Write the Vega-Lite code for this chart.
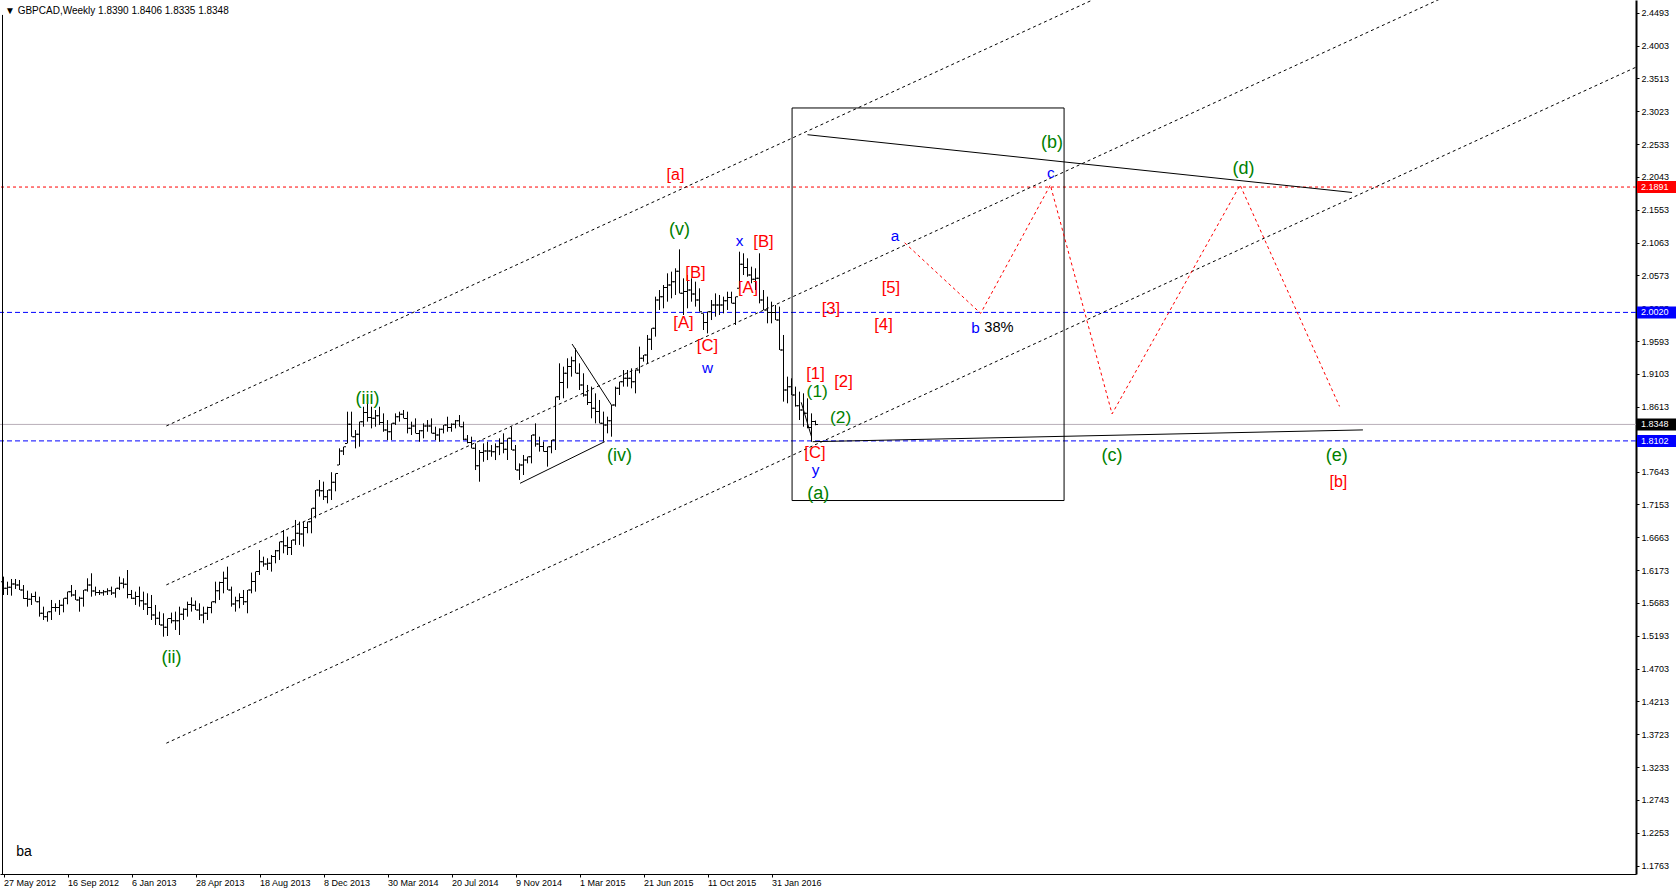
{
"$schema": "https://vega.github.io/schema/vega-lite/v6.json",
"width": 1636,
"height": 874,
"autosize": {"type": "none"},
"padding": {"left": 0, "top": 0, "right": 40, "bottom": 20},
"background": "white",
"config": {
"view": {"stroke": null},
"font": "Liberation Sans",
"axis": {"grid": false, "labelFont": "Liberation Sans", "labelFontSize": 9, "labelColor": "black", "domainColor": "black", "tickColor": "black", "tickSize": 3, "labelOverlap": false, "labelFlush": false, "labelBound": false},
"axisX": {"labelAlign": "left", "labelPadding": 1, "domainWidth": 1},
"axisY": {"domainWidth": 2, "labelPadding": 2}
},
"resolve": {"scale": {"color": "independent", "size": "independent"}},
"datasets": {
"bars": [
{"d":"2012-05-27","o":1.6000,"h":1.6076,"l":1.5802,"c":1.5902},
{"d":"2012-06-03","o":1.5902,"h":1.6001,"l":1.5802,"c":1.5917},
{"d":"2012-06-10","o":1.5917,"h":1.6041,"l":1.5792,"c":1.5967},
{"d":"2012-06-17","o":1.5967,"h":1.6041,"l":1.5892,"c":1.5952},
{"d":"2012-06-24","o":1.5952,"h":1.6026,"l":1.5877,"c":1.5877},
{"d":"2012-07-01","o":1.5877,"h":1.5951,"l":1.5743,"c":1.5748},
{"d":"2012-07-08","o":1.5748,"h":1.5867,"l":1.5628,"c":1.5740},
{"d":"2012-07-15","o":1.5740,"h":1.5827,"l":1.5653,"c":1.5778},
{"d":"2012-07-22","o":1.5778,"h":1.5852,"l":1.5703,"c":1.5703},
{"d":"2012-07-29","o":1.5703,"h":1.5777,"l":1.5479,"c":1.5529},
{"d":"2012-08-05","o":1.5529,"h":1.5628,"l":1.5429,"c":1.5479},
{"d":"2012-08-12","o":1.5479,"h":1.5553,"l":1.5404,"c":1.5553},
{"d":"2012-08-19","o":1.5553,"h":1.5728,"l":1.5429,"c":1.5616},
{"d":"2012-08-26","o":1.5616,"h":1.5678,"l":1.5553,"c":1.5616},
{"d":"2012-09-02","o":1.5616,"h":1.5728,"l":1.5504,"c":1.5648},
{"d":"2012-09-09","o":1.5648,"h":1.5752,"l":1.5543,"c":1.5752},
{"d":"2012-09-16","o":1.5752,"h":1.5852,"l":1.5663,"c":1.5852},
{"d":"2012-09-23","o":1.5852,"h":1.5951,"l":1.5777,"c":1.5803},
{"d":"2012-09-30","o":1.5803,"h":1.5877,"l":1.5728,"c":1.5728},
{"d":"2012-10-07","o":1.5728,"h":1.5777,"l":1.5553,"c":1.5753},
{"d":"2012-10-14","o":1.5753,"h":1.5877,"l":1.5628,"c":1.5877},
{"d":"2012-10-21","o":1.5877,"h":1.6051,"l":1.5852,"c":1.5952},
{"d":"2012-10-28","o":1.5952,"h":1.6126,"l":1.5777,"c":1.5860},
{"d":"2012-11-04","o":1.5860,"h":1.5927,"l":1.5792,"c":1.5840},
{"d":"2012-11-11","o":1.5840,"h":1.5877,"l":1.5802,"c":1.5835},
{"d":"2012-11-18","o":1.5835,"h":1.5877,"l":1.5792,"c":1.5852},
{"d":"2012-11-25","o":1.5852,"h":1.5902,"l":1.5802,"c":1.5865},
{"d":"2012-12-02","o":1.5865,"h":1.5927,"l":1.5802,"c":1.5832},
{"d":"2012-12-09","o":1.5832,"h":1.5902,"l":1.5762,"c":1.5902},
{"d":"2012-12-16","o":1.5902,"h":1.6076,"l":1.5877,"c":1.5977},
{"d":"2012-12-23","o":1.5977,"h":1.6051,"l":1.5902,"c":1.5964},
{"d":"2012-12-30","o":1.5964,"h":1.6175,"l":1.5752,"c":1.5810},
{"d":"2013-01-06","o":1.5810,"h":1.5877,"l":1.5743,"c":1.5753},
{"d":"2013-01-13","o":1.5753,"h":1.5852,"l":1.5653,"c":1.5778},
{"d":"2013-01-20","o":1.5778,"h":1.5927,"l":1.5628,"c":1.5715},
{"d":"2013-01-27","o":1.5715,"h":1.5852,"l":1.5578,"c":1.5666},
{"d":"2013-02-03","o":1.5666,"h":1.5827,"l":1.5504,"c":1.5616},
{"d":"2013-02-10","o":1.5616,"h":1.5802,"l":1.5429,"c":1.5504},
{"d":"2013-02-17","o":1.5504,"h":1.5653,"l":1.5354,"c":1.5454},
{"d":"2013-02-24","o":1.5454,"h":1.5553,"l":1.5354,"c":1.5355},
{"d":"2013-03-03","o":1.5355,"h":1.5529,"l":1.5180,"c":1.5320},
{"d":"2013-03-10","o":1.5320,"h":1.5450,"l":1.5190,"c":1.5450},
{"d":"2013-03-17","o":1.5450,"h":1.5539,"l":1.5379,"c":1.5417},
{"d":"2013-03-24","o":1.5417,"h":1.5554,"l":1.5280,"c":1.5417},
{"d":"2013-03-31","o":1.5417,"h":1.5628,"l":1.5205,"c":1.5516},
{"d":"2013-04-07","o":1.5516,"h":1.5603,"l":1.5429,"c":1.5591},
{"d":"2013-04-14","o":1.5591,"h":1.5703,"l":1.5479,"c":1.5661},
{"d":"2013-04-21","o":1.5661,"h":1.5767,"l":1.5554,"c":1.5648},
{"d":"2013-04-28","o":1.5648,"h":1.5718,"l":1.5578,"c":1.5578},
{"d":"2013-05-05","o":1.5578,"h":1.5678,"l":1.5429,"c":1.5504},
{"d":"2013-05-12","o":1.5504,"h":1.5628,"l":1.5379,"c":1.5529},
{"d":"2013-05-19","o":1.5529,"h":1.5628,"l":1.5429,"c":1.5616},
{"d":"2013-05-26","o":1.5616,"h":1.5703,"l":1.5529,"c":1.5703},
{"d":"2013-06-02","o":1.5703,"h":1.6001,"l":1.5678,"c":1.5865},
{"d":"2013-06-09","o":1.5865,"h":1.6001,"l":1.5728,"c":1.5989},
{"d":"2013-06-16","o":1.5989,"h":1.6151,"l":1.5827,"c":1.6051},
{"d":"2013-06-23","o":1.6051,"h":1.6225,"l":1.5877,"c":1.5877},
{"d":"2013-06-30","o":1.5877,"h":1.5927,"l":1.5628,"c":1.5666},
{"d":"2013-07-07","o":1.5666,"h":1.5777,"l":1.5554,"c":1.5715},
{"d":"2013-07-14","o":1.5715,"h":1.5827,"l":1.5603,"c":1.5765},
{"d":"2013-07-21","o":1.5765,"h":1.5877,"l":1.5653,"c":1.5703},
{"d":"2013-07-28","o":1.5703,"h":1.5877,"l":1.5529,"c":1.5877},
{"d":"2013-08-04","o":1.5877,"h":1.6136,"l":1.5827,"c":1.6002},
{"d":"2013-08-11","o":1.6002,"h":1.6151,"l":1.5852,"c":1.6151},
{"d":"2013-08-18","o":1.6151,"h":1.6474,"l":1.6101,"c":1.6300},
{"d":"2013-08-25","o":1.6300,"h":1.6374,"l":1.6225,"c":1.6263},
{"d":"2013-09-01","o":1.6263,"h":1.6350,"l":1.6175,"c":1.6275},
{"d":"2013-09-08","o":1.6275,"h":1.6399,"l":1.6151,"c":1.6375},
{"d":"2013-09-15","o":1.6375,"h":1.6474,"l":1.6275,"c":1.6462},
{"d":"2013-09-22","o":1.6462,"h":1.6598,"l":1.6325,"c":1.6598},
{"d":"2013-09-29","o":1.6598,"h":1.6772,"l":1.6424,"c":1.6536},
{"d":"2013-10-06","o":1.6536,"h":1.6673,"l":1.6399,"c":1.6511},
{"d":"2013-10-13","o":1.6511,"h":1.6623,"l":1.6399,"c":1.6623},
{"d":"2013-10-20","o":1.6623,"h":1.6922,"l":1.6549,"c":1.6723},
{"d":"2013-10-27","o":1.6723,"h":1.6897,"l":1.6549,"c":1.6711},
{"d":"2013-11-03","o":1.6711,"h":1.6897,"l":1.6524,"c":1.6810},
{"d":"2013-11-10","o":1.6810,"h":1.6897,"l":1.6723,"c":1.6897},
{"d":"2013-11-17","o":1.6897,"h":1.7096,"l":1.6723,"c":1.7096},
{"d":"2013-11-24","o":1.7096,"h":1.7369,"l":1.6947,"c":1.7369},
{"d":"2013-12-01","o":1.7369,"h":1.7519,"l":1.7270,"c":1.7357},
{"d":"2013-12-08","o":1.7357,"h":1.7494,"l":1.7220,"c":1.7270},
{"d":"2013-12-15","o":1.7270,"h":1.7369,"l":1.7170,"c":1.7369},
{"d":"2013-12-22","o":1.7369,"h":1.7635,"l":1.7220,"c":1.7484},
{"d":"2013-12-29","o":1.7484,"h":1.7617,"l":1.7350,"c":1.7617},
{"d":"2014-01-05","o":1.7742,"h":1.7991,"l":1.7742,"c":1.7953},
{"d":"2014-01-12","o":1.7953,"h":1.8015,"l":1.7891,"c":1.8015},
{"d":"2014-01-19","o":1.8065,"h":1.8538,"l":1.8065,"c":1.8352},
{"d":"2014-01-26","o":1.8352,"h":1.8538,"l":1.8165,"c":1.8165},
{"d":"2014-02-02","o":1.8165,"h":1.8264,"l":1.7991,"c":1.8202},
{"d":"2014-02-09","o":1.8202,"h":1.8389,"l":1.8015,"c":1.8389},
{"d":"2014-02-16","o":1.8389,"h":1.8612,"l":1.8314,"c":1.8526},
{"d":"2014-02-23","o":1.8526,"h":1.8662,"l":1.8389,"c":1.8451},
{"d":"2014-03-02","o":1.8451,"h":1.8612,"l":1.8289,"c":1.8439},
{"d":"2014-03-09","o":1.8439,"h":1.8563,"l":1.8314,"c":1.8476},
{"d":"2014-03-16","o":1.8476,"h":1.8612,"l":1.8339,"c":1.8376},
{"d":"2014-03-23","o":1.8376,"h":1.8513,"l":1.8239,"c":1.8264},
{"d":"2014-03-30","o":1.8264,"h":1.8413,"l":1.8115,"c":1.8240},
{"d":"2014-04-06","o":1.8240,"h":1.8364,"l":1.8115,"c":1.8364},
{"d":"2014-04-13","o":1.8364,"h":1.8513,"l":1.8339,"c":1.8464},
{"d":"2014-04-20","o":1.8464,"h":1.8538,"l":1.8389,"c":1.8501},
{"d":"2014-04-27","o":1.8501,"h":1.8563,"l":1.8438,"c":1.8438},
{"d":"2014-05-04","o":1.8438,"h":1.8538,"l":1.8214,"c":1.8290},
{"d":"2014-05-11","o":1.8290,"h":1.8389,"l":1.8190,"c":1.8326},
{"d":"2014-05-18","o":1.8326,"h":1.8438,"l":1.8214,"c":1.8214},
{"d":"2014-05-25","o":1.8214,"h":1.8264,"l":1.8090,"c":1.8252},
{"d":"2014-06-01","o":1.8252,"h":1.8364,"l":1.8140,"c":1.8326},
{"d":"2014-06-08","o":1.8326,"h":1.8413,"l":1.8239,"c":1.8326},
{"d":"2014-06-15","o":1.8326,"h":1.8438,"l":1.8214,"c":1.8215},
{"d":"2014-06-22","o":1.8215,"h":1.8314,"l":1.8115,"c":1.8190},
{"d":"2014-06-29","o":1.8190,"h":1.8289,"l":1.8090,"c":1.8277},
{"d":"2014-07-06","o":1.8277,"h":1.8339,"l":1.8214,"c":1.8339},
{"d":"2014-07-13","o":1.8339,"h":1.8463,"l":1.8239,"c":1.8302},
{"d":"2014-07-20","o":1.8302,"h":1.8364,"l":1.8239,"c":1.8351},
{"d":"2014-07-27","o":1.8351,"h":1.8413,"l":1.8289,"c":1.8401},
{"d":"2014-08-03","o":1.8401,"h":1.8488,"l":1.8314,"c":1.8314},
{"d":"2014-08-10","o":1.8314,"h":1.8389,"l":1.8115,"c":1.8128},
{"d":"2014-08-17","o":1.8128,"h":1.8190,"l":1.8065,"c":1.8078},
{"d":"2014-08-24","o":1.8078,"h":1.8165,"l":1.7991,"c":1.7991},
{"d":"2014-08-31","o":1.7991,"h":1.8065,"l":1.7667,"c":1.7730},
{"d":"2014-09-07","o":1.7730,"h":1.7966,"l":1.7493,"c":1.7928},
{"d":"2014-09-14","o":1.7928,"h":1.8065,"l":1.7791,"c":1.7953},
{"d":"2014-09-21","o":1.7953,"h":1.8090,"l":1.7816,"c":1.7953},
{"d":"2014-09-28","o":1.7953,"h":1.8040,"l":1.7866,"c":1.7941},
{"d":"2014-10-05","o":1.7941,"h":1.8065,"l":1.7816,"c":1.8015},
{"d":"2014-10-12","o":1.8015,"h":1.8140,"l":1.7890,"c":1.8066},
{"d":"2014-10-19","o":1.8066,"h":1.8215,"l":1.7917,"c":1.7979},
{"d":"2014-10-26","o":1.7979,"h":1.8140,"l":1.7817,"c":1.8140},
{"d":"2014-11-02","o":1.8140,"h":1.8315,"l":1.7966,"c":1.7966},
{"d":"2014-11-09","o":1.7966,"h":1.8041,"l":1.7668,"c":1.7668},
{"d":"2014-11-16","o":1.7668,"h":1.7767,"l":1.7519,"c":1.7743},
{"d":"2014-11-23","o":1.7743,"h":1.7892,"l":1.7593,"c":1.7817},
{"d":"2014-11-30","o":1.7817,"h":1.7867,"l":1.7767,"c":1.7867},
{"d":"2014-12-07","o":1.7867,"h":1.8190,"l":1.7767,"c":1.8190},
{"d":"2014-12-14","o":1.8190,"h":1.8364,"l":1.8016,"c":1.8054},
{"d":"2014-12-21","o":1.8054,"h":1.8165,"l":1.7942,"c":1.8017},
{"d":"2014-12-28","o":1.8017,"h":1.8091,"l":1.7942,"c":1.7942},
{"d":"2015-01-04","o":1.7942,"h":1.8016,"l":1.7718,"c":1.8016},
{"d":"2015-01-11","o":1.8016,"h":1.8116,"l":1.7917,"c":1.8116},
{"d":"2015-01-18","o":1.8116,"h":1.8762,"l":1.7966,"c":1.8762},
{"d":"2015-01-25","o":1.8762,"h":1.9260,"l":1.8713,"c":1.8974},
{"d":"2015-02-01","o":1.8974,"h":1.9210,"l":1.8738,"c":1.9111},
{"d":"2015-02-08","o":1.9111,"h":1.9335,"l":1.8887,"c":1.9211},
{"d":"2015-02-15","o":1.9211,"h":1.9360,"l":1.9061,"c":1.9298},
{"d":"2015-02-22","o":1.9298,"h":1.9484,"l":1.9111,"c":1.9111},
{"d":"2015-03-01","o":1.9111,"h":1.9260,"l":1.8862,"c":1.8937},
{"d":"2015-03-08","o":1.8937,"h":1.9111,"l":1.8762,"c":1.8788},
{"d":"2015-03-15","o":1.8788,"h":1.8937,"l":1.8638,"c":1.8676},
{"d":"2015-03-22","o":1.8676,"h":1.8912,"l":1.8439,"c":1.8588},
{"d":"2015-03-29","o":1.8588,"h":1.8812,"l":1.8364,"c":1.8539},
{"d":"2015-04-05","o":1.8539,"h":1.8713,"l":1.8364,"c":1.8364},
{"d":"2015-04-12","o":1.8364,"h":1.8539,"l":1.8091,"c":1.8340},
{"d":"2015-04-19","o":1.8340,"h":1.8464,"l":1.8215,"c":1.8402},
{"d":"2015-04-26","o":1.8402,"h":1.8638,"l":1.8165,"c":1.8638},
{"d":"2015-05-03","o":1.8638,"h":1.8912,"l":1.8613,"c":1.8887},
{"d":"2015-05-10","o":1.8887,"h":1.8986,"l":1.8787,"c":1.8986},
{"d":"2015-05-17","o":1.8986,"h":1.9160,"l":1.8912,"c":1.9036},
{"d":"2015-05-24","o":1.9036,"h":1.9160,"l":1.8912,"c":1.9036},
{"d":"2015-05-31","o":1.9036,"h":1.9185,"l":1.8887,"c":1.8986},
{"d":"2015-06-07","o":1.8986,"h":1.9160,"l":1.8812,"c":1.9160},
{"d":"2015-06-14","o":1.9160,"h":1.9509,"l":1.9111,"c":1.9335},
{"d":"2015-06-21","o":1.9335,"h":1.9384,"l":1.9285,"c":1.9384},
{"d":"2015-06-28","o":1.9384,"h":1.9683,"l":1.9260,"c":1.9621},
{"d":"2015-07-05","o":1.9621,"h":1.9782,"l":1.9459,"c":1.9782},
{"d":"2015-07-12","o":1.9782,"h":2.0255,"l":1.9658,"c":2.0205},
{"d":"2015-07-19","o":2.0205,"h":2.0354,"l":2.0056,"c":2.0255},
{"d":"2015-07-26","o":2.0255,"h":2.0429,"l":2.0081,"c":2.0392},
{"d":"2015-08-02","o":2.0392,"h":2.0603,"l":2.0180,"c":2.0429},
{"d":"2015-08-09","o":2.0429,"h":2.0628,"l":2.0230,"c":2.0479},
{"d":"2015-08-16","o":2.0479,"h":2.0678,"l":2.0280,"c":2.0633},
{"d":"2015-08-23","o":2.0633,"h":2.0961,"l":2.0304,"c":2.0304},
{"d":"2015-08-30","o":2.0304,"h":2.0528,"l":1.9981,"c":2.0330},
{"d":"2015-09-06","o":2.0330,"h":2.0578,"l":2.0081,"c":2.0354},
{"d":"2015-09-13","o":2.0354,"h":2.0528,"l":2.0180,"c":2.0293},
{"d":"2015-09-20","o":2.0293,"h":2.0479,"l":2.0106,"c":2.0205},
{"d":"2015-09-27","o":2.0205,"h":2.0379,"l":2.0031,"c":2.0031},
{"d":"2015-10-04","o":2.0006,"h":2.0006,"l":1.9757,"c":1.9869},
{"d":"2015-10-11","o":1.9869,"h":2.0031,"l":1.9707,"c":2.0031},
{"d":"2015-10-18","o":2.0031,"h":2.0205,"l":1.9906,"c":2.0130},
{"d":"2015-10-25","o":2.0130,"h":2.0304,"l":1.9956,"c":2.0131},
{"d":"2015-11-01","o":2.0131,"h":2.0280,"l":1.9981,"c":2.0131},
{"d":"2015-11-08","o":2.0131,"h":2.0255,"l":2.0006,"c":2.0193},
{"d":"2015-11-15","o":2.0193,"h":2.0329,"l":2.0056,"c":2.0242},
{"d":"2015-11-22","o":2.0242,"h":2.0329,"l":2.0155,"c":2.0155},
{"d":"2015-11-29","o":2.0155,"h":2.0255,"l":1.9832,"c":2.0255},
{"d":"2015-12-06","o":2.0379,"h":2.0926,"l":2.0379,"c":2.0740},
{"d":"2015-12-13","o":2.0740,"h":2.0902,"l":2.0578,"c":2.0690},
{"d":"2015-12-20","o":2.0690,"h":2.0827,"l":2.0553,"c":2.0578},
{"d":"2015-12-27","o":2.0578,"h":2.0702,"l":2.0454,"c":2.0516},
{"d":"2016-01-03","o":2.0516,"h":2.0678,"l":2.0354,"c":2.0529},
{"d":"2016-01-10","o":2.0529,"h":2.0902,"l":2.0155,"c":2.0205},
{"d":"2016-01-17","o":2.0205,"h":2.0354,"l":2.0056,"c":2.0056},
{"d":"2016-01-24","o":2.0056,"h":2.0255,"l":1.9857,"c":2.0019},
{"d":"2016-01-31","o":2.0019,"h":2.0180,"l":1.9857,"c":2.0018},
{"d":"2016-02-07","o":2.0018,"h":2.0130,"l":1.9906,"c":1.9906},
{"d":"2016-02-14","o":1.9906,"h":2.0106,"l":1.9459,"c":1.9459},
{"d":"2016-02-21","o":1.9459,"h":1.9683,"l":1.8688,"c":1.8862},
{"d":"2016-02-28","o":1.8862,"h":1.9061,"l":1.8663,"c":1.8912},
{"d":"2016-03-06","o":1.8912,"h":1.9036,"l":1.8787,"c":1.8787},
{"d":"2016-03-13","o":1.8787,"h":1.8912,"l":1.8613,"c":1.8626},
{"d":"2016-03-20","o":1.8626,"h":1.8837,"l":1.8414,"c":1.8563},
{"d":"2016-03-27","o":1.8563,"h":1.8812,"l":1.8314,"c":1.8514},
{"d":"2016-04-03","o":1.8514,"h":1.8737,"l":1.8290,"c":1.8302},
{"d":"2016-04-10","o":1.8302,"h":1.8513,"l":1.8090,"c":1.8390},
{"d":"2016-04-17","o":1.8390,"h":1.8406,"l":1.8335,"c":1.8348}
],
"levels": [
{"p":2.1891,"lab":"2.1891","kind":"target"},
{"p":2.0020,"lab":"2.0020","kind":"support"},
{"p":1.8348,"lab":"1.8348","kind":"bid"},
{"p":1.8102,"lab":"1.8102","kind":"support"}
],
"channel": [
{"id":"A","d":"2013-03-08","p":1.8325},
{"id":"A","d":"2017-10-08","p":2.4896},
{"id":"B","d":"2013-03-08","p":1.5953},
{"id":"B","d":"2019-06-30","p":2.4996},
{"id":"C","d":"2013-03-08","p":1.3590},
{"id":"C","d":"2020-06-14","p":2.4006}
],
"trend": [
{"id":"t1","d":"2016-04-03","p":2.2672},
{"id":"t1","d":"2018-11-12","p":2.1810},
{"id":"t2","d":"2016-04-12","p":1.8090},
{"id":"t2","d":"2018-12-01","p":1.8266},
{"id":"iv1","d":"2014-11-17","p":1.7469},
{"id":"iv1","d":"2015-04-14","p":1.8090},
{"id":"iv2","d":"2015-02-16","p":1.9548},
{"id":"iv2","d":"2015-04-27","p":1.8623},
{"id":"w1","d":"2016-03-23","p":1.8678},
{"id":"w1","d":"2016-04-10","p":1.8165}
],
"box": [
{"d":"2016-03-07","d2":"2017-06-26","p":2.3071,"p2":1.7212}
],
"zig": [
{"d":"2016-09-20","p":2.1059},
{"d":"2017-01-31","p":2.0006},
{"d":"2017-06-02","p":2.1921},
{"d":"2017-09-18","p":1.8505},
{"d":"2018-04-30","p":2.1921},
{"d":"2018-10-21","p":1.8617}
],
"labels": [
{"t":"(ii)","d":"2013-03-17","p":1.4866,"deg":"int"},
{"t":"(iii)","d":"2014-02-23","p":1.8729,"deg":"int"},
{"t":"(iv)","d":"2015-05-10","p":1.7883,"deg":"int"},
{"t":"(v)","d":"2015-08-23","p":2.1250,"deg":"int"},
{"t":"[a]","d":"2015-08-16","p":2.2065,"deg":"primary"},
{"t":"[B]","d":"2015-09-20","p":2.0603,"deg":"minor"},
{"t":"[A]","d":"2015-08-30","p":1.9857,"deg":"minor"},
{"t":"[C]","d":"2015-10-11","p":1.9518,"deg":"minor"},
{"t":"w","d":"2015-10-11","p":1.9195,"deg":"minute"},
{"t":"x","d":"2015-12-06","p":2.1090,"deg":"minute"},
{"t":"[B]","d":"2016-01-17","p":2.1075,"deg":"minor"},
{"t":"[A]","d":"2015-12-21","p":2.0380,"deg":"minor"},
{"t":"[1]","d":"2016-04-17","p":1.9100,"deg":"minor"},
{"t":"(1)","d":"2016-04-20","p":1.8836,"deg":"sub"},
{"t":"[2]","d":"2016-06-05","p":1.8984,"deg":"minor"},
{"t":"(2)","d":"2016-05-31","p":1.8442,"deg":"sub"},
{"t":"[C]","d":"2016-04-16","p":1.7915,"deg":"minor"},
{"t":"y","d":"2016-04-17","p":1.7670,"deg":"minute"},
{"t":"(a)","d":"2016-04-22","p":1.7309,"deg":"int"},
{"t":"[3]","d":"2016-05-14","p":2.0071,"deg":"minor"},
{"t":"[4]","d":"2016-08-14","p":1.9830,"deg":"minor"},
{"t":"[5]","d":"2016-08-27","p":2.0389,"deg":"minor"},
{"t":"a","d":"2016-09-03","p":2.1156,"deg":"minute"},
{"t":"b","d":"2017-01-22","p":1.9783,"deg":"minute"},
{"t":"38%","d":"2017-03-04","p":1.9783,"deg":"note"},
{"t":"c","d":"2017-06-03","p":2.2098,"deg":"minute"},
{"t":"(b)","d":"2017-06-05","p":2.2544,"deg":"int"},
{"t":"(c)","d":"2017-09-18","p":1.7883,"deg":"int"},
{"t":"(d)","d":"2018-05-06","p":2.2160,"deg":"int"},
{"t":"(e)","d":"2018-10-16","p":1.7883,"deg":"int"},
{"t":"[b]","d":"2018-10-19","p":1.7484,"deg":"primary"},
{"t":"ba","d":"2012-07-02","p":1.1966,"deg":"caption"}
],
"head": [
{"t":"▼ GBPCAD,Weekly  1.8390 1.8406 1.8335 1.8348"}
]
},
"layer": [
{
"data": {"name": "levels"},
"transform": [{"filter": "datum.kind == 'target'"}],
"mark": {"type": "rule", "color": "#ff0000", "strokeWidth": 1, "strokeDash": [3, 3]},
"encoding": {
"y": {"field": "p", "type": "quantitative", "scale": {"domain": [1.16378, 2.46826], "nice": false, "zero": false}, "axis": {"orient": "right", "title": null, "format": ".4f", "values": [2.4493, 2.4003, 2.3513, 2.3023, 2.2533, 2.2043, 2.1553, 2.1063, 2.0573, 2.0083, 1.9593, 1.9103, 1.8613, 1.8128, 1.7643, 1.7153, 1.6663, 1.6173, 1.5683, 1.5193, 1.4703, 1.4213, 1.3723, 1.3233, 1.2743, 1.2253, 1.1763]}}
}
},
{
"data": {"name": "levels"},
"transform": [{"filter": "datum.kind == 'support'"}],
"mark": {"type": "rule", "color": "#0000ff", "strokeWidth": 1, "strokeDash": [5, 3]},
"encoding": {
"y": {"field": "p", "type": "quantitative", "scale": {"domain": [1.16378, 2.46826], "nice": false, "zero": false}, "axis": {"orient": "right", "title": null, "format": ".4f", "values": [2.4493, 2.4003, 2.3513, 2.3023, 2.2533, 2.2043, 2.1553, 2.1063, 2.0573, 2.0083, 1.9593, 1.9103, 1.8613, 1.8128, 1.7643, 1.7153, 1.6663, 1.6173, 1.5683, 1.5193, 1.4703, 1.4213, 1.3723, 1.3233, 1.2743, 1.2253, 1.1763]}}
}
},
{
"data": {"name": "levels"},
"transform": [{"filter": "datum.kind == 'bid'"}],
"mark": {"type": "rule", "color": "#b8aeb8", "strokeWidth": 1},
"encoding": {
"y": {"field": "p", "type": "quantitative", "scale": {"domain": [1.16378, 2.46826], "nice": false, "zero": false}, "axis": {"orient": "right", "title": null, "format": ".4f", "values": [2.4493, 2.4003, 2.3513, 2.3023, 2.2533, 2.2043, 2.1553, 2.1063, 2.0573, 2.0083, 1.9593, 1.9103, 1.8613, 1.8128, 1.7643, 1.7153, 1.6663, 1.6173, 1.5683, 1.5193, 1.4703, 1.4213, 1.3723, 1.3233, 1.2743, 1.2253, 1.1763]}}
}
},
{
"data": {"name": "channel"},
"mark": {"type": "line", "color": "black", "strokeWidth": 1, "strokeDash": [3, 3], "clip": true},
"encoding": {
"x": {"field": "d", "type": "temporal", "scale": {"type": "utc", "nice": false, "domain": [1337547600000, 1584910800000]}, "axis": {"orient": "bottom", "title": null, "format": "%-d %b %Y", "values": [1338076800000, 1347753600000, 1357430400000, 1367107200000, 1376784000000, 1386460800000, 1396137600000, 1405814400000, 1415491200000, 1425168000000, 1434844800000, 1444521600000, 1454198400000]}},
"y": {"field": "p", "type": "quantitative", "scale": {"domain": [1.16378, 2.46826], "nice": false, "zero": false}, "axis": {"orient": "right", "title": null, "format": ".4f", "values": [2.4493, 2.4003, 2.3513, 2.3023, 2.2533, 2.2043, 2.1553, 2.1063, 2.0573, 2.0083, 1.9593, 1.9103, 1.8613, 1.8128, 1.7643, 1.7153, 1.6663, 1.6173, 1.5683, 1.5193, 1.4703, 1.4213, 1.3723, 1.3233, 1.2743, 1.2253, 1.1763]}},
"detail": {"field": "id"}
}
},
{
"data": {"name": "bars"},
"mark": {"type": "rule", "color": "black", "strokeWidth": 1},
"encoding": {
"x": {"field": "d", "type": "temporal", "scale": {"type": "utc", "nice": false, "domain": [1337547600000, 1584910800000]}, "axis": {"orient": "bottom", "title": null, "format": "%-d %b %Y", "values": [1338076800000, 1347753600000, 1357430400000, 1367107200000, 1376784000000, 1386460800000, 1396137600000, 1405814400000, 1415491200000, 1425168000000, 1434844800000, 1444521600000, 1454198400000]}},
"y": {"field": "h", "type": "quantitative", "scale": {"domain": [1.16378, 2.46826], "nice": false, "zero": false}, "axis": {"orient": "right", "title": null, "format": ".4f", "values": [2.4493, 2.4003, 2.3513, 2.3023, 2.2533, 2.2043, 2.1553, 2.1063, 2.0573, 2.0083, 1.9593, 1.9103, 1.8613, 1.8128, 1.7643, 1.7153, 1.6663, 1.6173, 1.5683, 1.5193, 1.4703, 1.4213, 1.3723, 1.3233, 1.2743, 1.2253, 1.1763]}},
"y2": {"field": "l"}
}
},
{
"data": {"name": "bars"},
"mark": {"type": "tick", "orient": "horizontal", "size": 2, "thickness": 1, "xOffset": -1.5, "color": "black", "opacity": 1},
"encoding": {
"x": {"field": "d", "type": "temporal", "scale": {"type": "utc", "nice": false, "domain": [1337547600000, 1584910800000]}, "axis": {"orient": "bottom", "title": null, "format": "%-d %b %Y", "values": [1338076800000, 1347753600000, 1357430400000, 1367107200000, 1376784000000, 1386460800000, 1396137600000, 1405814400000, 1415491200000, 1425168000000, 1434844800000, 1444521600000, 1454198400000]}},
"y": {"field": "o", "type": "quantitative", "scale": {"domain": [1.16378, 2.46826], "nice": false, "zero": false}, "axis": {"orient": "right", "title": null, "format": ".4f", "values": [2.4493, 2.4003, 2.3513, 2.3023, 2.2533, 2.2043, 2.1553, 2.1063, 2.0573, 2.0083, 1.9593, 1.9103, 1.8613, 1.8128, 1.7643, 1.7153, 1.6663, 1.6173, 1.5683, 1.5193, 1.4703, 1.4213, 1.3723, 1.3233, 1.2743, 1.2253, 1.1763]}}
}
},
{
"data": {"name": "bars"},
"mark": {"type": "tick", "orient": "horizontal", "size": 2, "thickness": 1, "xOffset": 1.5, "color": "black", "opacity": 1},
"encoding": {
"x": {"field": "d", "type": "temporal", "scale": {"type": "utc", "nice": false, "domain": [1337547600000, 1584910800000]}, "axis": {"orient": "bottom", "title": null, "format": "%-d %b %Y", "values": [1338076800000, 1347753600000, 1357430400000, 1367107200000, 1376784000000, 1386460800000, 1396137600000, 1405814400000, 1415491200000, 1425168000000, 1434844800000, 1444521600000, 1454198400000]}},
"y": {"field": "c", "type": "quantitative", "scale": {"domain": [1.16378, 2.46826], "nice": false, "zero": false}, "axis": {"orient": "right", "title": null, "format": ".4f", "values": [2.4493, 2.4003, 2.3513, 2.3023, 2.2533, 2.2043, 2.1553, 2.1063, 2.0573, 2.0083, 1.9593, 1.9103, 1.8613, 1.8128, 1.7643, 1.7153, 1.6663, 1.6173, 1.5683, 1.5193, 1.4703, 1.4213, 1.3723, 1.3233, 1.2743, 1.2253, 1.1763]}}
}
},
{
"data": {"name": "trend"},
"mark": {"type": "line", "color": "black", "strokeWidth": 1},
"encoding": {
"x": {"field": "d", "type": "temporal", "scale": {"type": "utc", "nice": false, "domain": [1337547600000, 1584910800000]}, "axis": {"orient": "bottom", "title": null, "format": "%-d %b %Y", "values": [1338076800000, 1347753600000, 1357430400000, 1367107200000, 1376784000000, 1386460800000, 1396137600000, 1405814400000, 1415491200000, 1425168000000, 1434844800000, 1444521600000, 1454198400000]}},
"y": {"field": "p", "type": "quantitative", "scale": {"domain": [1.16378, 2.46826], "nice": false, "zero": false}, "axis": {"orient": "right", "title": null, "format": ".4f", "values": [2.4493, 2.4003, 2.3513, 2.3023, 2.2533, 2.2043, 2.1553, 2.1063, 2.0573, 2.0083, 1.9593, 1.9103, 1.8613, 1.8128, 1.7643, 1.7153, 1.6663, 1.6173, 1.5683, 1.5193, 1.4703, 1.4213, 1.3723, 1.3233, 1.2743, 1.2253, 1.1763]}},
"detail": {"field": "id"}
}
},
{
"data": {"name": "box"},
"mark": {"type": "rect", "fillOpacity": 0, "fill": "white", "stroke": "black", "strokeWidth": 1},
"encoding": {
"x": {"field": "d", "type": "temporal", "scale": {"type": "utc", "nice": false, "domain": [1337547600000, 1584910800000]}, "axis": {"orient": "bottom", "title": null, "format": "%-d %b %Y", "values": [1338076800000, 1347753600000, 1357430400000, 1367107200000, 1376784000000, 1386460800000, 1396137600000, 1405814400000, 1415491200000, 1425168000000, 1434844800000, 1444521600000, 1454198400000]}},
"x2": {"field": "d2"},
"y": {"field": "p", "type": "quantitative", "scale": {"domain": [1.16378, 2.46826], "nice": false, "zero": false}, "axis": {"orient": "right", "title": null, "format": ".4f", "values": [2.4493, 2.4003, 2.3513, 2.3023, 2.2533, 2.2043, 2.1553, 2.1063, 2.0573, 2.0083, 1.9593, 1.9103, 1.8613, 1.8128, 1.7643, 1.7153, 1.6663, 1.6173, 1.5683, 1.5193, 1.4703, 1.4213, 1.3723, 1.3233, 1.2743, 1.2253, 1.1763]}},
"y2": {"field": "p2"}
}
},
{
"data": {"name": "zig"},
"mark": {"type": "line", "color": "#ff0000", "strokeWidth": 1, "strokeDash": [3, 3]},
"encoding": {
"x": {"field": "d", "type": "temporal", "scale": {"type": "utc", "nice": false, "domain": [1337547600000, 1584910800000]}, "axis": {"orient": "bottom", "title": null, "format": "%-d %b %Y", "values": [1338076800000, 1347753600000, 1357430400000, 1367107200000, 1376784000000, 1386460800000, 1396137600000, 1405814400000, 1415491200000, 1425168000000, 1434844800000, 1444521600000, 1454198400000]}},
"y": {"field": "p", "type": "quantitative", "scale": {"domain": [1.16378, 2.46826], "nice": false, "zero": false}, "axis": {"orient": "right", "title": null, "format": ".4f", "values": [2.4493, 2.4003, 2.3513, 2.3023, 2.2533, 2.2043, 2.1553, 2.1063, 2.0573, 2.0083, 1.9593, 1.9103, 1.8613, 1.8128, 1.7643, 1.7153, 1.6663, 1.6173, 1.5683, 1.5193, 1.4703, 1.4213, 1.3723, 1.3233, 1.2743, 1.2253, 1.1763]}}
}
},
{
"data": {"name": "head"},
"mark": {"type": "rule", "color": "black", "strokeWidth": 1},
"encoding": {
"x": {"datum": 1337925600000, "type": "temporal", "scale": {"type": "utc", "nice": false, "domain": [1337547600000, 1584910800000]}, "axis": {"orient": "bottom", "title": null, "format": "%-d %b %Y", "values": [1338076800000, 1347753600000, 1357430400000, 1367107200000, 1376784000000, 1386460800000, 1396137600000, 1405814400000, 1415491200000, 1425168000000, 1434844800000, 1444521600000, 1454198400000]}},
"y": {"datum": 2.446, "type": "quantitative", "scale": {"domain": [1.16378, 2.46826], "nice": false, "zero": false}, "axis": {"orient": "right", "title": null, "format": ".4f", "values": [2.4493, 2.4003, 2.3513, 2.3023, 2.2533, 2.2043, 2.1553, 2.1063, 2.0573, 2.0083, 1.9593, 1.9103, 1.8613, 1.8128, 1.7643, 1.7153, 1.6663, 1.6173, 1.5683, 1.5193, 1.4703, 1.4213, 1.3723, 1.3233, 1.2743, 1.2253, 1.1763]}},
"y2": {"datum": 1.16378}
}
},
{
"data": {"name": "labels"},
"mark": {"type": "text", "align": "center", "baseline": "middle", "font": "Liberation Sans"},
"encoding": {
"x": {"field": "d", "type": "temporal", "scale": {"type": "utc", "nice": false, "domain": [1337547600000, 1584910800000]}, "axis": {"orient": "bottom", "title": null, "format": "%-d %b %Y", "values": [1338076800000, 1347753600000, 1357430400000, 1367107200000, 1376784000000, 1386460800000, 1396137600000, 1405814400000, 1415491200000, 1425168000000, 1434844800000, 1444521600000, 1454198400000]}},
"y": {"field": "p", "type": "quantitative", "scale": {"domain": [1.16378, 2.46826], "nice": false, "zero": false}, "axis": {"orient": "right", "title": null, "format": ".4f", "values": [2.4493, 2.4003, 2.3513, 2.3023, 2.2533, 2.2043, 2.1553, 2.1063, 2.0573, 2.0083, 1.9593, 1.9103, 1.8613, 1.8128, 1.7643, 1.7153, 1.6663, 1.6173, 1.5683, 1.5193, 1.4703, 1.4213, 1.3723, 1.3233, 1.2743, 1.2253, 1.1763]}},
"text": {"field": "t"},
"color": {"field": "deg", "type": "nominal", "legend": null,
"scale": {"domain": ["int", "sub", "minor", "primary", "minute", "note", "caption"], "range": ["#008000", "#008000", "#ff0000", "#ff0000", "#0000ff", "#000000", "#000000"]}},
"size": {"field": "deg", "type": "ordinal", "legend": null,
"scale": {"domain": ["int", "sub", "minor", "primary", "minute", "note", "caption"], "range": [18, 14, 14, 18, 19, 11, 12]}}
}
},
{
"data": {"name": "levels"},
"mark": {"type": "rect", "xOffset": 1, "x2Offset": 40, "yOffset": -6, "y2Offset": 6},
"encoding": {
"x": {"datum": 1584910800000, "type": "temporal", "scale": {"type": "utc", "nice": false, "domain": [1337547600000, 1584910800000]}, "axis": {"orient": "bottom", "title": null, "format": "%-d %b %Y", "values": [1338076800000, 1347753600000, 1357430400000, 1367107200000, 1376784000000, 1386460800000, 1396137600000, 1405814400000, 1415491200000, 1425168000000, 1434844800000, 1444521600000, 1454198400000]}},
"x2": {"datum": 1584910800000},
"y": {"field": "p", "type": "quantitative", "scale": {"domain": [1.16378, 2.46826], "nice": false, "zero": false}, "axis": {"orient": "right", "title": null, "format": ".4f", "values": [2.4493, 2.4003, 2.3513, 2.3023, 2.2533, 2.2043, 2.1553, 2.1063, 2.0573, 2.0083, 1.9593, 1.9103, 1.8613, 1.8128, 1.7643, 1.7153, 1.6663, 1.6173, 1.5683, 1.5193, 1.4703, 1.4213, 1.3723, 1.3233, 1.2743, 1.2253, 1.1763]}},
"y2": {"field": "p"},
"color": {"field": "kind", "type": "nominal", "legend": null,
"scale": {"domain": ["target", "support", "bid"], "range": ["#ff0000", "#0000ff", "#000000"]}}
}
},
{
"data": {"name": "levels"},
"mark": {"type": "text", "align": "left", "baseline": "middle", "dx": 5, "color": "white", "fontSize": 9, "font": "Liberation Sans"},
"encoding": {
"x": {"datum": 1584910800000, "type": "temporal", "scale": {"type": "utc", "nice": false, "domain": [1337547600000, 1584910800000]}, "axis": {"orient": "bottom", "title": null, "format": "%-d %b %Y", "values": [1338076800000, 1347753600000, 1357430400000, 1367107200000, 1376784000000, 1386460800000, 1396137600000, 1405814400000, 1415491200000, 1425168000000, 1434844800000, 1444521600000, 1454198400000]}},
"y": {"field": "p", "type": "quantitative", "scale": {"domain": [1.16378, 2.46826], "nice": false, "zero": false}, "axis": {"orient": "right", "title": null, "format": ".4f", "values": [2.4493, 2.4003, 2.3513, 2.3023, 2.2533, 2.2043, 2.1553, 2.1063, 2.0573, 2.0083, 1.9593, 1.9103, 1.8613, 1.8128, 1.7643, 1.7153, 1.6663, 1.6173, 1.5683, 1.5193, 1.4703, 1.4213, 1.3723, 1.3233, 1.2743, 1.2253, 1.1763]}},
"text": {"field": "lab"}
}
},
{
"data": {"name": "head"},
"mark": {"type": "text", "align": "left", "baseline": "middle", "dx": 5, "dy": 11, "color": "black", "fontSize": 10, "font": "Liberation Sans"},
"encoding": {
"x": {"datum": 1337547600000, "type": "temporal", "scale": {"type": "utc", "nice": false, "domain": [1337547600000, 1584910800000]}, "axis": {"orient": "bottom", "title": null, "format": "%-d %b %Y", "values": [1338076800000, 1347753600000, 1357430400000, 1367107200000, 1376784000000, 1386460800000, 1396137600000, 1405814400000, 1415491200000, 1425168000000, 1434844800000, 1444521600000, 1454198400000]}},
"y": {"datum": 2.46826, "type": "quantitative", "scale": {"domain": [1.16378, 2.46826], "nice": false, "zero": false}, "axis": {"orient": "right", "title": null, "format": ".4f", "values": [2.4493, 2.4003, 2.3513, 2.3023, 2.2533, 2.2043, 2.1553, 2.1063, 2.0573, 2.0083, 1.9593, 1.9103, 1.8613, 1.8128, 1.7643, 1.7153, 1.6663, 1.6173, 1.5683, 1.5193, 1.4703, 1.4213, 1.3723, 1.3233, 1.2743, 1.2253, 1.1763]}},
"text": {"field": "t"}
}
}
]
}
